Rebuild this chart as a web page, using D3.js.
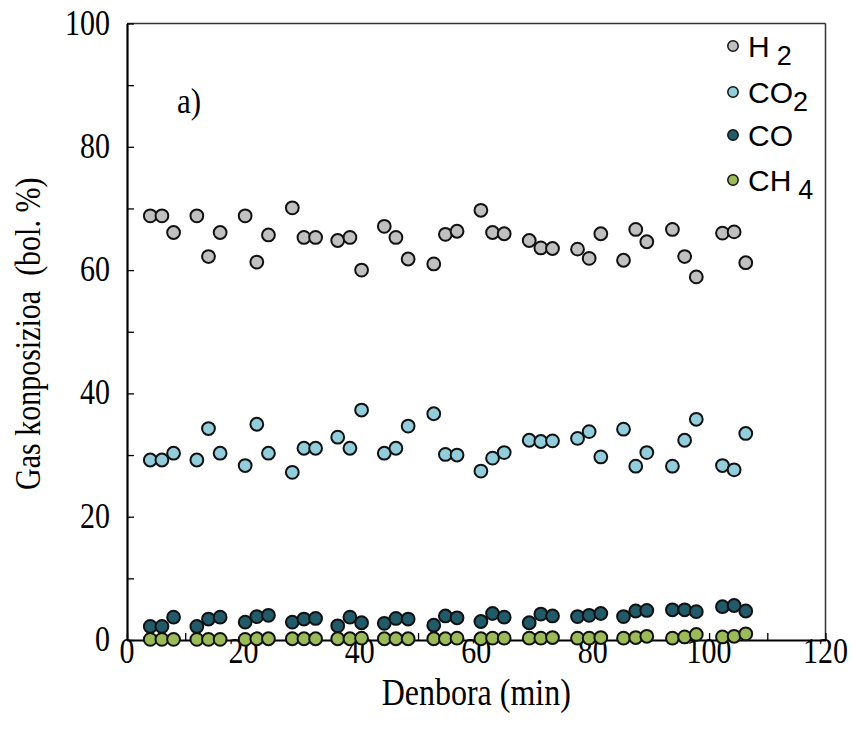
<!DOCTYPE html>
<html>
<head>
<meta charset="utf-8">
<script src="https://cdn.jsdelivr.net/npm/d3@7"></script>
<style>
  html, body { margin: 0; padding: 0; background: #fff; }
  svg { display: block; }
  text { white-space: pre; }
</style>
</head>
<body>
<div id="chart"></div>
<script>
// Sampling times (min)
const times = [4, 6, 8, 12, 14, 16, 20.3, 22.3, 24.3, 28.4, 30.4, 32.4, 36.2, 38.3, 40.3,
  44.2, 46.2, 48.3, 52.7, 54.7, 56.7, 60.8, 62.8, 64.8, 69.1, 71.1, 73.1, 77.4, 79.4, 81.4,
  85.3, 87.4, 89.3, 93.7, 95.8, 97.8, 102.3, 104.3, 106.3];

// Gas composition (vol. %)
const h2 = [68.8, 68.8, 66.1, 68.8, 62.2, 66.1, 68.8, 61.3, 65.7, 70.1, 65.3, 65.3, 64.8, 65.3, 60.0,
  67.1, 65.3, 61.8, 61.0, 65.8, 66.3, 69.7, 66.1, 65.9, 64.8, 63.6, 63.5, 63.4, 61.9, 65.9,
  61.6, 66.6, 64.6, 66.6, 62.2, 58.9, 66.0, 66.2, 61.2];
const co2 = [29.2, 29.2, 30.3, 29.2, 34.3, 30.3, 28.3, 35.0, 30.3, 27.2, 31.1, 31.1, 32.9, 31.1, 37.3,
  30.3, 31.1, 34.7, 36.7, 30.1, 30.0, 27.4, 29.5, 30.4, 32.4, 32.2, 32.3, 32.7, 33.8, 29.7,
  34.2, 28.2, 30.4, 28.2, 32.4, 35.8, 28.3, 27.6, 33.5];
const co = [2.2, 2.2, 3.7, 2.2, 3.4, 3.7, 2.9, 3.8, 4.0, 2.9, 3.4, 3.5, 2.3, 3.7, 2.8,
  2.7, 3.5, 3.4, 2.4, 3.9, 3.6, 3.0, 4.3, 3.7, 2.8, 4.2, 3.9, 3.8, 4.0, 4.3,
  3.8, 4.7, 4.8, 4.9, 4.9, 4.6, 5.4, 5.6, 4.7];
const ch4 = [0.1, 0.1, 0.1, 0.1, 0.1, 0.1, 0.1, 0.2, 0.2, 0.2, 0.2, 0.2, 0.2, 0.2, 0.3,
  0.2, 0.2, 0.2, 0.2, 0.2, 0.3, 0.2, 0.3, 0.3, 0.3, 0.3, 0.4, 0.3, 0.3, 0.4,
  0.3, 0.4, 0.6, 0.3, 0.5, 0.9, 0.5, 0.6, 1.0];

const seriesNames = ["H2", "CO2", "CO", "CH4"];
const seriesColors = ["#c0c0c0", "#92cddc", "#215a68", "#9bbb59"];
const seriesValues = [h2, co2, co, ch4];

const xTicks = [0, 20, 40, 60, 80, 100, 120];
const yTicks = [0, 20, 40, 60, 80, 100];

const W = 855, H = 740;
const m = { left: 127, right: 825.5, top: 23.5, bottom: 640 };

const svg = d3.select("#chart").append("svg")
  .attr("width", W).attr("height", H);

const x = d3.scaleLinear().domain([0, 120]).range([m.left, m.right]);
const y = d3.scaleLinear().domain([0, 100]).range([m.bottom, m.top]);

const serif = "'Liberation Serif', 'Times New Roman', serif";
const sans = "'Liberation Sans', Arial, sans-serif";
const stretch = 1.18;

// Serif text with a slightly tall glyph shape
function label(px, py, str, anchor, rot, size) {
  return svg.append("text")
    .attr("transform", `translate(${px},${py}) rotate(${rot || 0}) scale(1,${stretch})`)
    .attr("text-anchor", anchor || "start")
    .attr("font-family", serif).attr("font-size", size || 30)
    .text(str);
}

// Plot frame: thin top and right edges
svg.append("line").attr("x1", m.left).attr("x2", m.right).attr("y1", m.top).attr("y2", m.top)
  .attr("stroke", "#333").attr("stroke-width", 1.5);
svg.append("line").attr("x1", m.right).attr("x2", m.right).attr("y1", m.top).attr("y2", m.bottom)
  .attr("stroke", "#333").attr("stroke-width", 1.5);

// Axes with inward ticks every 10
const xAxis = d3.axisBottom(x).tickValues(d3.range(0, 121, 10)).tickSize(-7).tickSizeOuter(0).tickFormat("");
const yAxis = d3.axisLeft(y).tickValues(d3.range(0, 101, 10)).tickSize(-7).tickSizeOuter(0).tickFormat("");

const gx = svg.append("g").attr("transform", `translate(0,${m.bottom})`).call(xAxis);
const gy = svg.append("g").attr("transform", `translate(${m.left},0)`).call(yAxis);
[gx, gy].forEach(g => {
  g.select(".domain").attr("stroke", "#000").attr("stroke-width", 2.2);
  g.selectAll(".tick line").attr("stroke", "#000").attr("stroke-width", 1.3);
});

// Tick labels
xTicks.forEach(d => label(x(d), m.bottom + 23, d, "middle"));
yTicks.forEach(d => label(m.left - 17, y(d) + 11, d, "end"));

// Axis titles
label((m.left + m.right) / 2, 705, "Denbora (min)", "middle", 0, 32);
label(40, (m.top + m.bottom) / 2 + 2, "Gas konposizioa  (bol. %)", "middle", -90, 30);

// Panel label
label(177, 113, "a)", "start", 0, 31);

// Data points
seriesValues.forEach((vals, i) => {
  svg.append("g").selectAll("circle").data(vals).join("circle")
    .attr("cx", (d, j) => x(times[j]))
    .attr("cy", d => y(d))
    .attr("r", 6.4)
    .attr("fill", seriesColors[i])
    .attr("stroke", "#111")
    .attr("stroke-width", 2);
});

// Legend
const legendRows = [
  { base: "H", sub: "2", gap: true, cy: 46 },
  { base: "CO", sub: "2", gap: false, cy: 92 },
  { base: "CO", sub: "", gap: false, cy: 135 },
  { base: "CH", sub: "4", gap: true, cy: 180 }
];
const lg = svg.append("g");
legendRows.forEach((r, i) => {
  lg.append("circle").attr("cx", 733).attr("cy", r.cy).attr("r", 5.2)
    .attr("fill", seriesColors[i]).attr("stroke", "#111").attr("stroke-width", 1.5);
  const t = lg.append("text").attr("x", 748).attr("y", r.cy + 11)
    .attr("font-family", sans).attr("font-size", 30);
  t.append("tspan").text(r.base);
  if (r.sub) {
    t.append("tspan").attr("dx", r.gap ? 7 : 0).attr("dy", 8).attr("font-size", 27).text(r.sub);
  }
});
</script>
</body>
</html>
